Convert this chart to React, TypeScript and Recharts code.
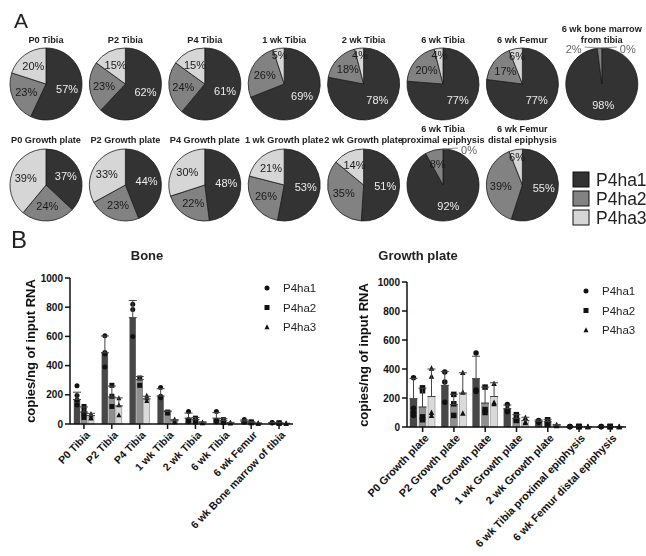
import React from "react";
import { PieChart, Pie, Cell, BarChart, Bar, XAxis, YAxis, ErrorBar } from "recharts";

const genes = ["P4ha1", "P4ha2", "P4ha3"];
const pieColors = ["#333333", "#828282", "#d6d6d6"];
const pieTextColors = ["#ececec", "#1a1a1a", "#1a1a1a"];
const barColors = ["#474747", "#8f8f8f", "#dadada"];
const markers = ["circle", "square", "triangle"];

// pie panels (A): percent of total copies
const pieTitles = [
  "P0 Tibia",
  "P2 Tibia",
  "P4 Tibia",
  "1 wk Tibia",
  "2 wk Tibia",
  "6 wk Tibia",
  "6 wk Femur",
  "6 wk bone marrow\nfrom tibia",
  "P0 Growth plate",
  "P2 Growth plate",
  "P4 Growth plate",
  "1 wk Growth plate",
  "2 wk Growth plate",
  "6 wk Tibia\nproximal epiphysis",
  "6 wk Femur\ndistal epiphysis",
];
const pieP4ha1 = [57, 62, 61, 69, 78, 77, 77, 98, 37, 44, 48, 53, 51, 92, 55];
const pieP4ha2 = [23, 23, 24, 26, 18, 20, 17, 2, 24, 23, 22, 26, 35, 8, 39];
const pieP4ha3 = [20, 15, 15, 5, 4, 4, 6, 0, 39, 33, 30, 21, 14, 0, 6];

// bar panels (B): copies/ng of input RNA
const yTicks = [0, 200, 400, 600, 800, 1000];

const boneCategories = [
  "P0 Tibia",
  "P2 Tibia",
  "P4 Tibia",
  "1 wk Tibia",
  "2 wk Tibia",
  "6 wk Tibia",
  "6 wk Femur",
  "6 wk Bone marrow of tibia",
];
const boneP4ha1 = [168, 488, 728, 192, 40, 40, 20, 8];
const boneP4ha1Err = [50, 115, 118, 50, 35, 38, 8, 2];
const boneP4ha1Pts = [[262, 195, 165, 130], [605, 490, 480, 390], [820, 785, 600], [250, 190, 180], [85, 30, 15], [85, 25, 15], [30, 18, 12], [10, 8, 6]];
const boneP4ha2 = [82, 185, 305, 85, 30, 25, 12, 6];
const boneP4ha2Err = [35, 75, 20, 5, 15, 12, 4, 2];
const boneP4ha2Pts = [[120, 90, 70, 45], [265, 190, 120], [315, 265], [82, 75], [40, 20, 15], [30, 15, 10], [15, 10, 8], [8, 6, 4]];
const boneP4ha3 = [58, 124, 172, 22, 10, 8, 5, 4];
const boneP4ha3Err = [15, 55, 18, 8, 5, 3, 2, 1];
const boneP4ha3Pts = [[70, 60, 45, 40], [178, 130, 62], [195, 178, 160], [32, 20, 14], [12, 8, 6], [10, 8, 5], [6, 5, 4], [5, 4, 3]];

const gpCategories = [
  "P0 Growth plate",
  "P2 Growth plate",
  "P4 Growth plate",
  "1 wk Growth plate",
  "2 wk Growth plate",
  "6 wk Tibia proximal epiphysis",
  "6 wk Femur distal epiphysis",
];
const gpP4ha1 = [195, 287, 333, 126, 40, 3, 3];
const gpP4ha1Err = [140, 95, 155, 25, 8, 1, 1];
const gpP4ha1Pts = [[340, 130, 100, 80], [380, 310, 170], [510, 255, 245], [155, 120, 105], [45, 38, 32], [4, 3, 2], [4, 3, 2]];
const gpP4ha2 = [138, 156, 165, 60, 38, 3, 3];
const gpP4ha2Err = [130, 70, 110, 25, 15, 1, 1];
const gpP4ha2Pts = [[270, 250, 70, 50], [225, 160, 80], [275, 120, 100], [85, 50, 45], [50, 30, 20], [4, 3, 2], [4, 3, 2]];
const gpP4ha3 = [210, 234, 210, 45, 12, 2, 2];
const gpP4ha3Err = [190, 140, 95, 22, 5, 1, 1];
const gpP4ha3Pts = [[405, 350, 100, 80], [375, 240, 95], [300, 170, 160], [65, 35, 30], [15, 10, 8], [3, 2, 1], [3, 2, 1]];

const boneData = boneCategories.map((name, i) => ({
  name,
  P4ha1: boneP4ha1[i],
  P4ha1Err: [0, boneP4ha1Err[i]],
  P4ha1Pts: boneP4ha1Pts[i],
  P4ha2: boneP4ha2[i],
  P4ha2Err: [0, boneP4ha2Err[i]],
  P4ha2Pts: boneP4ha2Pts[i],
  P4ha3: boneP4ha3[i],
  P4ha3Err: [0, boneP4ha3Err[i]],
  P4ha3Pts: boneP4ha3Pts[i],
}));

const gpData = gpCategories.map((name, i) => ({
  name,
  P4ha1: gpP4ha1[i],
  P4ha1Err: [0, gpP4ha1Err[i]],
  P4ha1Pts: gpP4ha1Pts[i],
  P4ha2: gpP4ha2[i],
  P4ha2Err: [0, gpP4ha2Err[i]],
  P4ha2Pts: gpP4ha2Pts[i],
  P4ha3: gpP4ha3[i],
  P4ha3Err: [0, gpP4ha3Err[i]],
  P4ha3Pts: gpP4ha3Pts[i],
}));

const RAD = Math.PI / 180;

function renderPieLabel(props: any) {
  const { cx, cy, midAngle, outerRadius, value, index } = props;
  const cos = Math.cos(-midAngle * RAD);
  const sin = Math.sin(-midAngle * RAD);
  if (value < 3) {
    // tiny slices: label outside with a short leader line
    const ax = cx + outerRadius * cos;
    const ay = cy + outerRadius * sin;
    const dir = cos < -0.01 ? -1 : 1;
    return (
      <g>
        <line x1={ax} y1={ay} x2={ax + dir * 15} y2={ay - 1} stroke="#777" strokeWidth={0.8} />
        <text
          x={ax + dir * 18}
          y={ay + 2}
          dy="0.3em"
          textAnchor={dir < 0 ? "end" : "start"}
          fontSize={11}
          style={{ fill: "#666" }}
        >
          {value}%
        </text>
      </g>
    );
  }
  const r = value < 8 ? outerRadius * 0.8 : outerRadius * 0.6;
  return (
    <text
      x={cx + r * cos}
      y={cy + r * sin}
      dy="0.35em"
      textAnchor="middle"
      fontSize={11}
      style={{ fill: pieTextColors[index] }}
    >
      {value}%
    </text>
  );
}

function Marker({ type, x, y, size }: { type: string; x: number; y: number; size: number }) {
  if (type === "circle") return <circle cx={x} cy={y} r={size / 2} fill="#111" />;
  if (type === "square") return <rect x={x - size / 2} y={y - size / 2} width={size} height={size} fill="#111" />;
  const h = size * 0.9;
  return <polygon points={`${x},${y - h / 2 - 0.5} ${x - size / 2},${y + h / 2} ${x + size / 2},${y + h / 2}`} fill="#111" />;
}

function makeBarShape(key: string, fill: string, marker: string, size: number) {
  return (props: any) => {
    const { x, y, width, height, payload } = props;
    const mean = payload[key];
    const pts: number[] = payload[key + "Pts"] || [];
    const k = mean > 0 && height > 0 ? height / mean : 0;
    const mx = x + width / 2;
    return (
      <g>
        <rect x={x} y={y} width={width} height={Math.max(height, 0)} fill={fill} stroke="#555" strokeWidth={0.4} />
        {k > 0 &&
          pts.map((p, i) => <Marker key={i} type={marker} x={mx} y={y + height - p * k} size={size} />)}
      </g>
    );
  };
}

function RotTick(props: any) {
  const { x, y, payload, fontSize } = props;
  return (
    <g transform={`translate(${x + 4},${y + 2})`}>
      <text x={0} y={0} dy="0.35em" textAnchor="end" transform="rotate(-46)" fontSize={fontSize} fontWeight={700} fill="#111">
        {payload.value}
      </text>
    </g>
  );
}

function GeneBars({ barSize, markerSize }: { barSize: number; markerSize: number }) {
  return genes.map((g, i) => (
    <Bar
      key={g}
      dataKey={g}
      fill={barColors[i]}
      barSize={barSize}
      isAnimationActive={false}
      shape={makeBarShape(g, barColors[i], markers[i], markerSize)}
    >
      <ErrorBar dataKey={g + "Err"} direction="y" width={4} stroke="#444" strokeWidth={1} />
    </Bar>
  ));
}

const axisStyle = { stroke: "#111", strokeWidth: 1.5 };

function Overlay() {
  const titleLines = pieTitles.map((t, i) => {
    const row = i < 8 ? 0 : 1;
    const col = row ? i - 8 : i;
    const cx = 46 + col * 79.4;
    const base = row ? 143 : 43;
    const lines = t.split("\n");
    return lines.map((ln, j) => (
      <text key={`${i}-${j}`} x={cx} y={base - (lines.length - 1 - j) * 11} textAnchor="middle" fontSize={9.2} fontWeight={700} fill="#222">
        {ln}
      </text>
    ));
  });
  const barLegend = (mx: number, y0: number, size: number) =>
    genes.map((g, i) => (
      <g key={g}>
        <Marker type={markers[i]} x={mx} y={y0 + i * 19.5} size={size} />
        <text x={mx + 16} y={y0 + i * 19.5} dy="0.35em" fontSize={11.5} fill="#222">
          {g}
        </text>
      </g>
    ));
  return (
    <svg width={646} height={556} style={{ position: "absolute", left: 0, top: 0, pointerEvents: "none" }}>
      <text x={14} y={28} fontSize={21} fill="#222">A</text>
      <text x={11} y={248} fontSize={24} fill="#222">B</text>
      {titleLines}
      {genes.map((g, i) => (
        <g key={g}>
          <rect x={573} y={172 + i * 19} width={16} height={15} fill={pieColors[i]} stroke="#111" strokeWidth={1} />
          <text x={596} y={180 + i * 19} dy="0.36em" fontSize={17.5} fill="#222">
            {g}
          </text>
        </g>
      ))}
      <text x={147} y={260} textAnchor="middle" fontSize={13} fontWeight={700} fill="#222">Bone</text>
      <text x={418} y={260} textAnchor="middle" fontSize={13} fontWeight={700} fill="#222">Growth plate</text>
      {barLegend(267, 288, 5)}
      {barLegend(586, 291, 5)}
      <text transform="translate(30,351) rotate(-90)" textAnchor="middle" dy="0.35em" fontSize={13} fontWeight={700} fill="#111">
        copies/ng of input RNA
      </text>
      <text transform="translate(363,355) rotate(-90)" textAnchor="middle" dy="0.35em" fontSize={13} fontWeight={700} fill="#111">
        copies/ng of input RNA
      </text>
    </svg>
  );
}

export default function App() {
  return (
    <div
      style={{
        position: "absolute",
        left: 0,
        top: 0,
        width: 646,
        height: 556,
        background: "#fff",
        fontFamily: '"Liberation Sans", Arial, Helvetica, sans-serif',
      }}
    >
      <div style={{ position: "absolute", left: 0, top: 0, willChange: "transform" }}>
        <PieChart width={646} height={235} margin={{ top: 0, right: 0, bottom: 0, left: 0 }}>
          {pieTitles.map((t, i) => {
            const row = i < 8 ? 0 : 1;
            const col = row ? i - 8 : i;
            const data = genes.map((g, k) => ({ name: g, value: [pieP4ha1, pieP4ha2, pieP4ha3][k][i] }));
            return (
              <Pie
                key={t}
                data={data}
                dataKey="value"
                cx={46 + col * 79.4}
                cy={row ? 185 : 84}
                outerRadius={36}
                startAngle={90}
                endAngle={-270}
                stroke="#1a1a1a"
                strokeWidth={0.8}
                label={renderPieLabel}
                labelLine={false}
                isAnimationActive={false}
              >
                {data.map((d, k) => (
                  <Cell key={d.name} fill={pieColors[k]} />
                ))}
              </Pie>
            );
          })}
        </PieChart>
      </div>

      <div style={{ position: "absolute", left: 0, top: 250 }}>
        <BarChart width={310} height={306} data={boneData} margin={{ top: 28, right: 17, left: 0, bottom: 0 }} barGap={1}>
          <XAxis
            dataKey="name"
            interval={0}
            height={132}
            tick={(p: any) => <RotTick {...p} fontSize={10.5} />}
            tickSize={5}
            axisLine={axisStyle}
            tickLine={axisStyle}
          />
          <YAxis
            width={70}
            domain={[0, 1000]}
            ticks={yTicks}
            tickSize={5}
            tick={{ fontSize: 10, fontWeight: 700, fill: "#111" }}
            axisLine={axisStyle}
            tickLine={axisStyle}
          />
          {GeneBars({ barSize: 6, markerSize: 5 })}
        </BarChart>
      </div>

      <div style={{ position: "absolute", left: 320, top: 250 }}>
        <BarChart width={316} height={306} data={gpData} margin={{ top: 32, right: 10, left: 0, bottom: 0 }} barGap={2}>
          <XAxis
            dataKey="name"
            interval={0}
            height={129}
            tick={(p: any) => <RotTick {...p} fontSize={10.8} />}
            tickSize={5}
            axisLine={axisStyle}
            tickLine={axisStyle}
          />
          <YAxis
            width={87}
            domain={[0, 1000]}
            ticks={yTicks}
            tickSize={5}
            tick={{ fontSize: 10, fontWeight: 700, fill: "#111" }}
            axisLine={axisStyle}
            tickLine={axisStyle}
          />
          {GeneBars({ barSize: 7, markerSize: 5.5 })}
        </BarChart>
      </div>

      <Overlay />
    </div>
  );
}
